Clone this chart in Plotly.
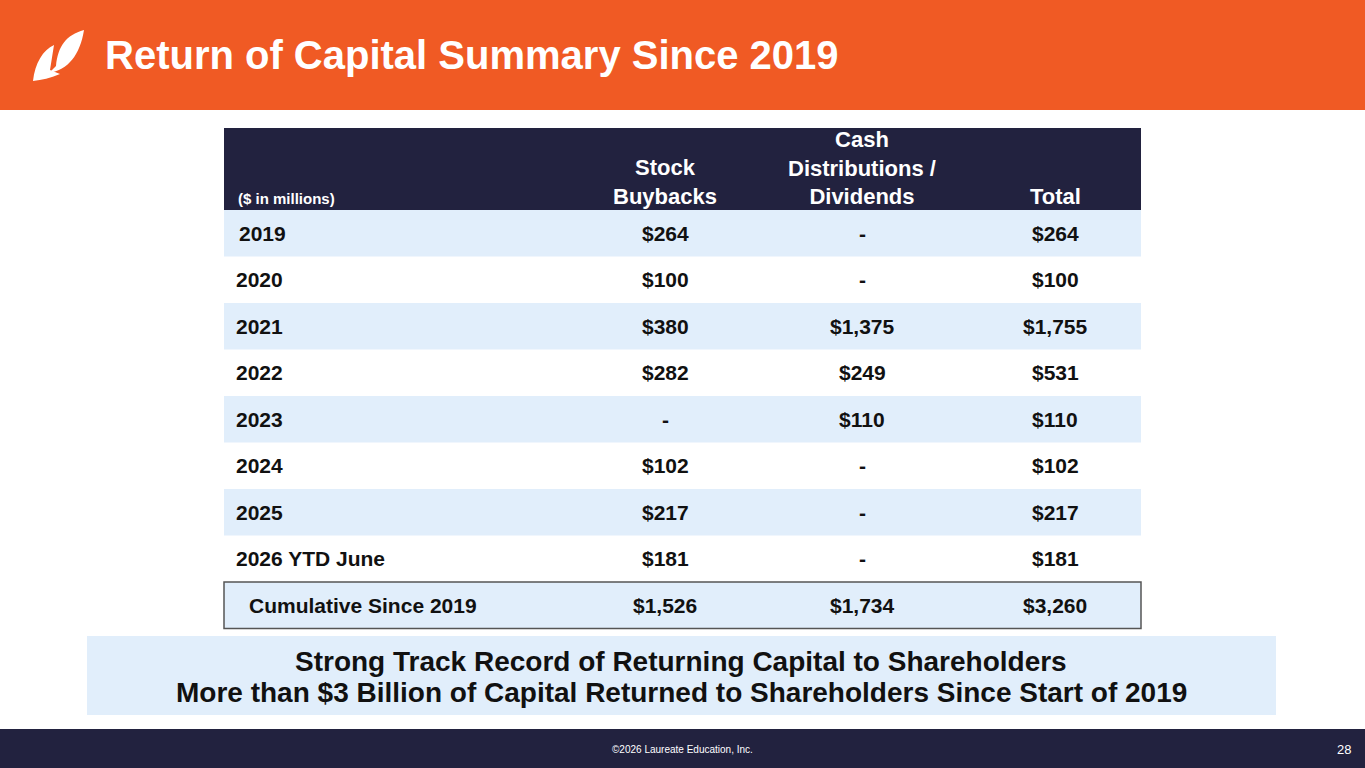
import plotly.graph_objects as go

years = ["2019", "2020", "2021", "2022", "2023", "2024", "2025", "2026 YTD June"]
buybacks = ["$264", "$100", "$380", "$282", "-", "$102", "$217", "$181"]
dividends = ["-", "-", "$1,375", "$249", "$110", "-", "-", "-"]
totals = ["$264", "$100", "$1,755", "$531", "$110", "$102", "$217", "$181"]
cumulative = ["Cumulative Since 2019", "$1,526", "$1,734", "$3,260"]
headers = ["($ in millions)", "Stock<br>Buybacks", "Cash<br>Distributions /<br>Dividends", "Total"]

ORANGE = "#F05A24"
NAVY = "#22223F"
LIGHT = "#E1EEFB"
FONT = "Liberation Sans, Arial, sans-serif"

tx0, tx1 = 224, 1141
head_top, head_bot = 128, 210
row_h = 46.5
col_x = [234, 665, 862, 1055]

fig = go.Figure()
shapes = [
    dict(type="rect", x0=0, x1=1365, y0=0, y1=110, fillcolor=ORANGE, line_width=0),
    dict(type="rect", x0=0, x1=1365, y0=729, y1=768, fillcolor=NAVY, line_width=0),
    dict(type="rect", x0=tx0, x1=tx1, y0=head_top, y1=head_bot, fillcolor=NAVY, line_width=0),
    dict(type="rect", x0=87, x1=1276, y0=636, y1=715, fillcolor=LIGHT, line_width=0),
    # logo leaf
    dict(type="path", path="M 84,30 C 66,35 58,46 56,66 L 49,73 C 68,70 80,55 84,30 Z",
         fillcolor="white", line_width=0),
    dict(type="path", path="M 33,81 C 35,63 43,50 54,45 L 50,70 L 60,74 C 50,78 42,80 33,81 Z",
         fillcolor="white", line_width=0),
]
for i in range(len(years) + 1):
    y0 = head_bot + i * row_h
    if i % 2 == 0:
        shapes.append(dict(type="rect", x0=tx0, x1=tx1, y0=y0, y1=y0 + row_h,
                           fillcolor=LIGHT, line_width=0))
cy0 = head_bot + len(years) * row_h
shapes.append(dict(type="rect", x0=tx0, x1=tx1, y0=cy0, y1=cy0 + row_h,
                   line=dict(color="#555555", width=1.5)))

ann = []
# header
ann.append(dict(x=236, y=head_bot - 1, text="<b>" + headers[0] + "</b>", xanchor="left",
                yanchor="bottom", font=dict(size=15, color="white")))
for j in range(1, 4):
    ann.append(dict(x=col_x[j], y=head_bot + 1, text="<b>" + headers[j] + "</b>",
                    xanchor="center", yanchor="bottom",
                    font=dict(size=22, color="white")))
for i, yr in enumerate(years):
    yc = head_bot + (i + 0.5) * row_h
    vals = [yr, buybacks[i], dividends[i], totals[i]]
    for j, v in enumerate(vals):
        ann.append(dict(x=col_x[j] + (3 if (j == 0 and i == 0) else 0), y=yc,
                        text="<b>" + v + "</b>",
                        xanchor="left" if j == 0 else "center", yanchor="middle",
                        font=dict(size=21, color="#111111")))
yc = cy0 + row_h / 2
for j, v in enumerate(cumulative):
    ann.append(dict(x=247 if j == 0 else col_x[j], y=yc, text="<b>" + v + "</b>",
                    xanchor="left" if j == 0 else "center", yanchor="middle",
                    font=dict(size=21, color="#111111")))

ann += [
    dict(x=103, y=55, text="<b>Return of Capital Summary Since 2019</b>", xanchor="left",
         yanchor="middle", font=dict(size=40, color="white")),
    dict(x=681, y=661, text="<b>Strong Track Record of Returning Capital to Shareholders</b>",
         font=dict(size=28, color="#111111")),
    dict(x=681, y=692,
         text="<b>More than $3 Billion of Capital Returned to Shareholders Since Start of 2019</b>",
         font=dict(size=28, color="#111111")),
    dict(x=682, y=749, text="©2026 Laureate Education, Inc.", font=dict(size=10, color="white")),
    dict(x=1353, y=749, text="28", xanchor="right", font=dict(size=13, color="white")),
]
for a in ann:
    a.setdefault("xanchor", "center")
    a.setdefault("yanchor", "middle")
    a.update(xref="x", yref="y", showarrow=False)

fig.update_layout(
    width=1365, height=768, margin=dict(l=0, r=0, t=0, b=0),
    plot_bgcolor="white", paper_bgcolor="white",
    xaxis=dict(range=[0, 1365], visible=False, fixedrange=True),
    yaxis=dict(range=[768, 0], visible=False, fixedrange=True),
    shapes=shapes, annotations=ann, font=dict(family=FONT), showlegend=False,
)
fig.write_html("out.html", config={"displayModeBar": False},
               post_script="document.body.style.margin='0';document.body.style.overflow='hidden';")
